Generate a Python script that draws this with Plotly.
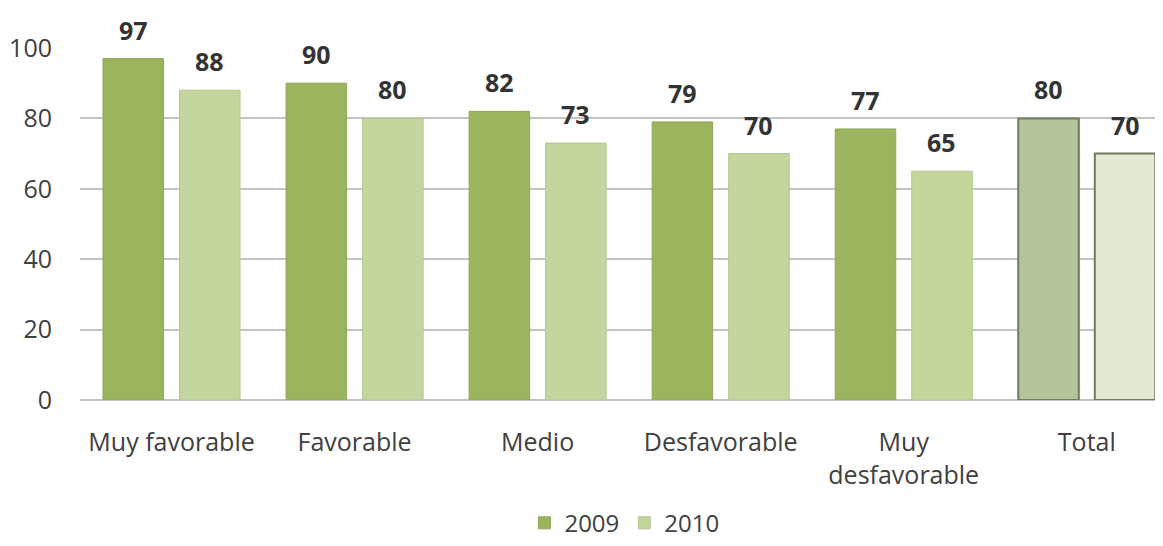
import plotly.graph_objects as go

categories = ["Muy favorable", "Favorable", "Medio", "Desfavorable", "Muy<br>desfavorable", "Total"]
values_2009 = [97, 90, 82, 79, 77, 80]
values_2010 = [88, 80, 73, 70, 65, 70]
series_names = ["2009", "2010"]
y_ticks = [0, 20, 40, 60, 80, 100]

col09 = ["#9bb45e"] * 5 + ["#b7c49b"]
col10 = ["#c4d69e"] * 5 + ["#e2ead6"]
line09 = ["#8fa856"] * 5 + ["#6f7a5e"]
line10 = ["#b3c68d"] * 5 + ["#6f7a5e"]

FONT = "Open Sans"
x_idx = list(range(len(categories)))
fig = go.Figure()
fig.add_trace(go.Bar(name=series_names[0], x=x_idx, y=values_2009,
                     marker=dict(color=col09, line=dict(color=line09, width=[1]*5 + [2]))))
fig.add_trace(go.Bar(name=series_names[1], x=x_idx, y=values_2010,
                     marker=dict(color=col10, line=dict(color=line10, width=[1]*5 + [2]))))

annotations = []
for vals, shift in ((values_2009, -38.2), (values_2010, 38.2)):
    for i, v in enumerate(vals):
        annotations.append(dict(x=i, y=v, xref="x", yref="y", text="<b>%d</b>" % v, showarrow=False,
                                xshift=shift, yshift=10, yanchor="bottom",
                                font=dict(family=FONT, size=25, color="#333333")))

fig.update_layout(
    width=1163, height=546,
    margin=dict(l=72, r=0, t=40, b=154, autoexpand=False),
    paper_bgcolor="white", plot_bgcolor="white",
    barmode="group", bargap=0.164, bargroupgap=0.209,
    font=dict(family=FONT, size=24, color="#404040"),
    showlegend=True,
    legend=dict(orientation="h", x=0.499, xanchor="center", y=-0.35, yanchor="middle",
                font=dict(family=FONT, size=24, color="#404040"), itemwidth=30),
    annotations=annotations,
)
fig.update_xaxes(range=[-0.5, 5.46], tickvals=x_idx, ticktext=categories,
                 showgrid=False, zeroline=False, showline=False, ticks="",
                 ticklabelstandoff=25, tickfont=dict(family=FONT, size=25, color="#404040"))
fig.update_yaxes(range=[0, 100], tickvals=y_ticks, showgrid=True, gridcolor="#c3c3c3",
                 gridwidth=1.5, zeroline=True, zerolinecolor="#c3c3c3", zerolinewidth=1.5,
                 showline=False, ticks="", ticklabelstandoff=27,
                 tickfont=dict(family=FONT, size=25, color="#404040"))
fig.write_html("out.html")
